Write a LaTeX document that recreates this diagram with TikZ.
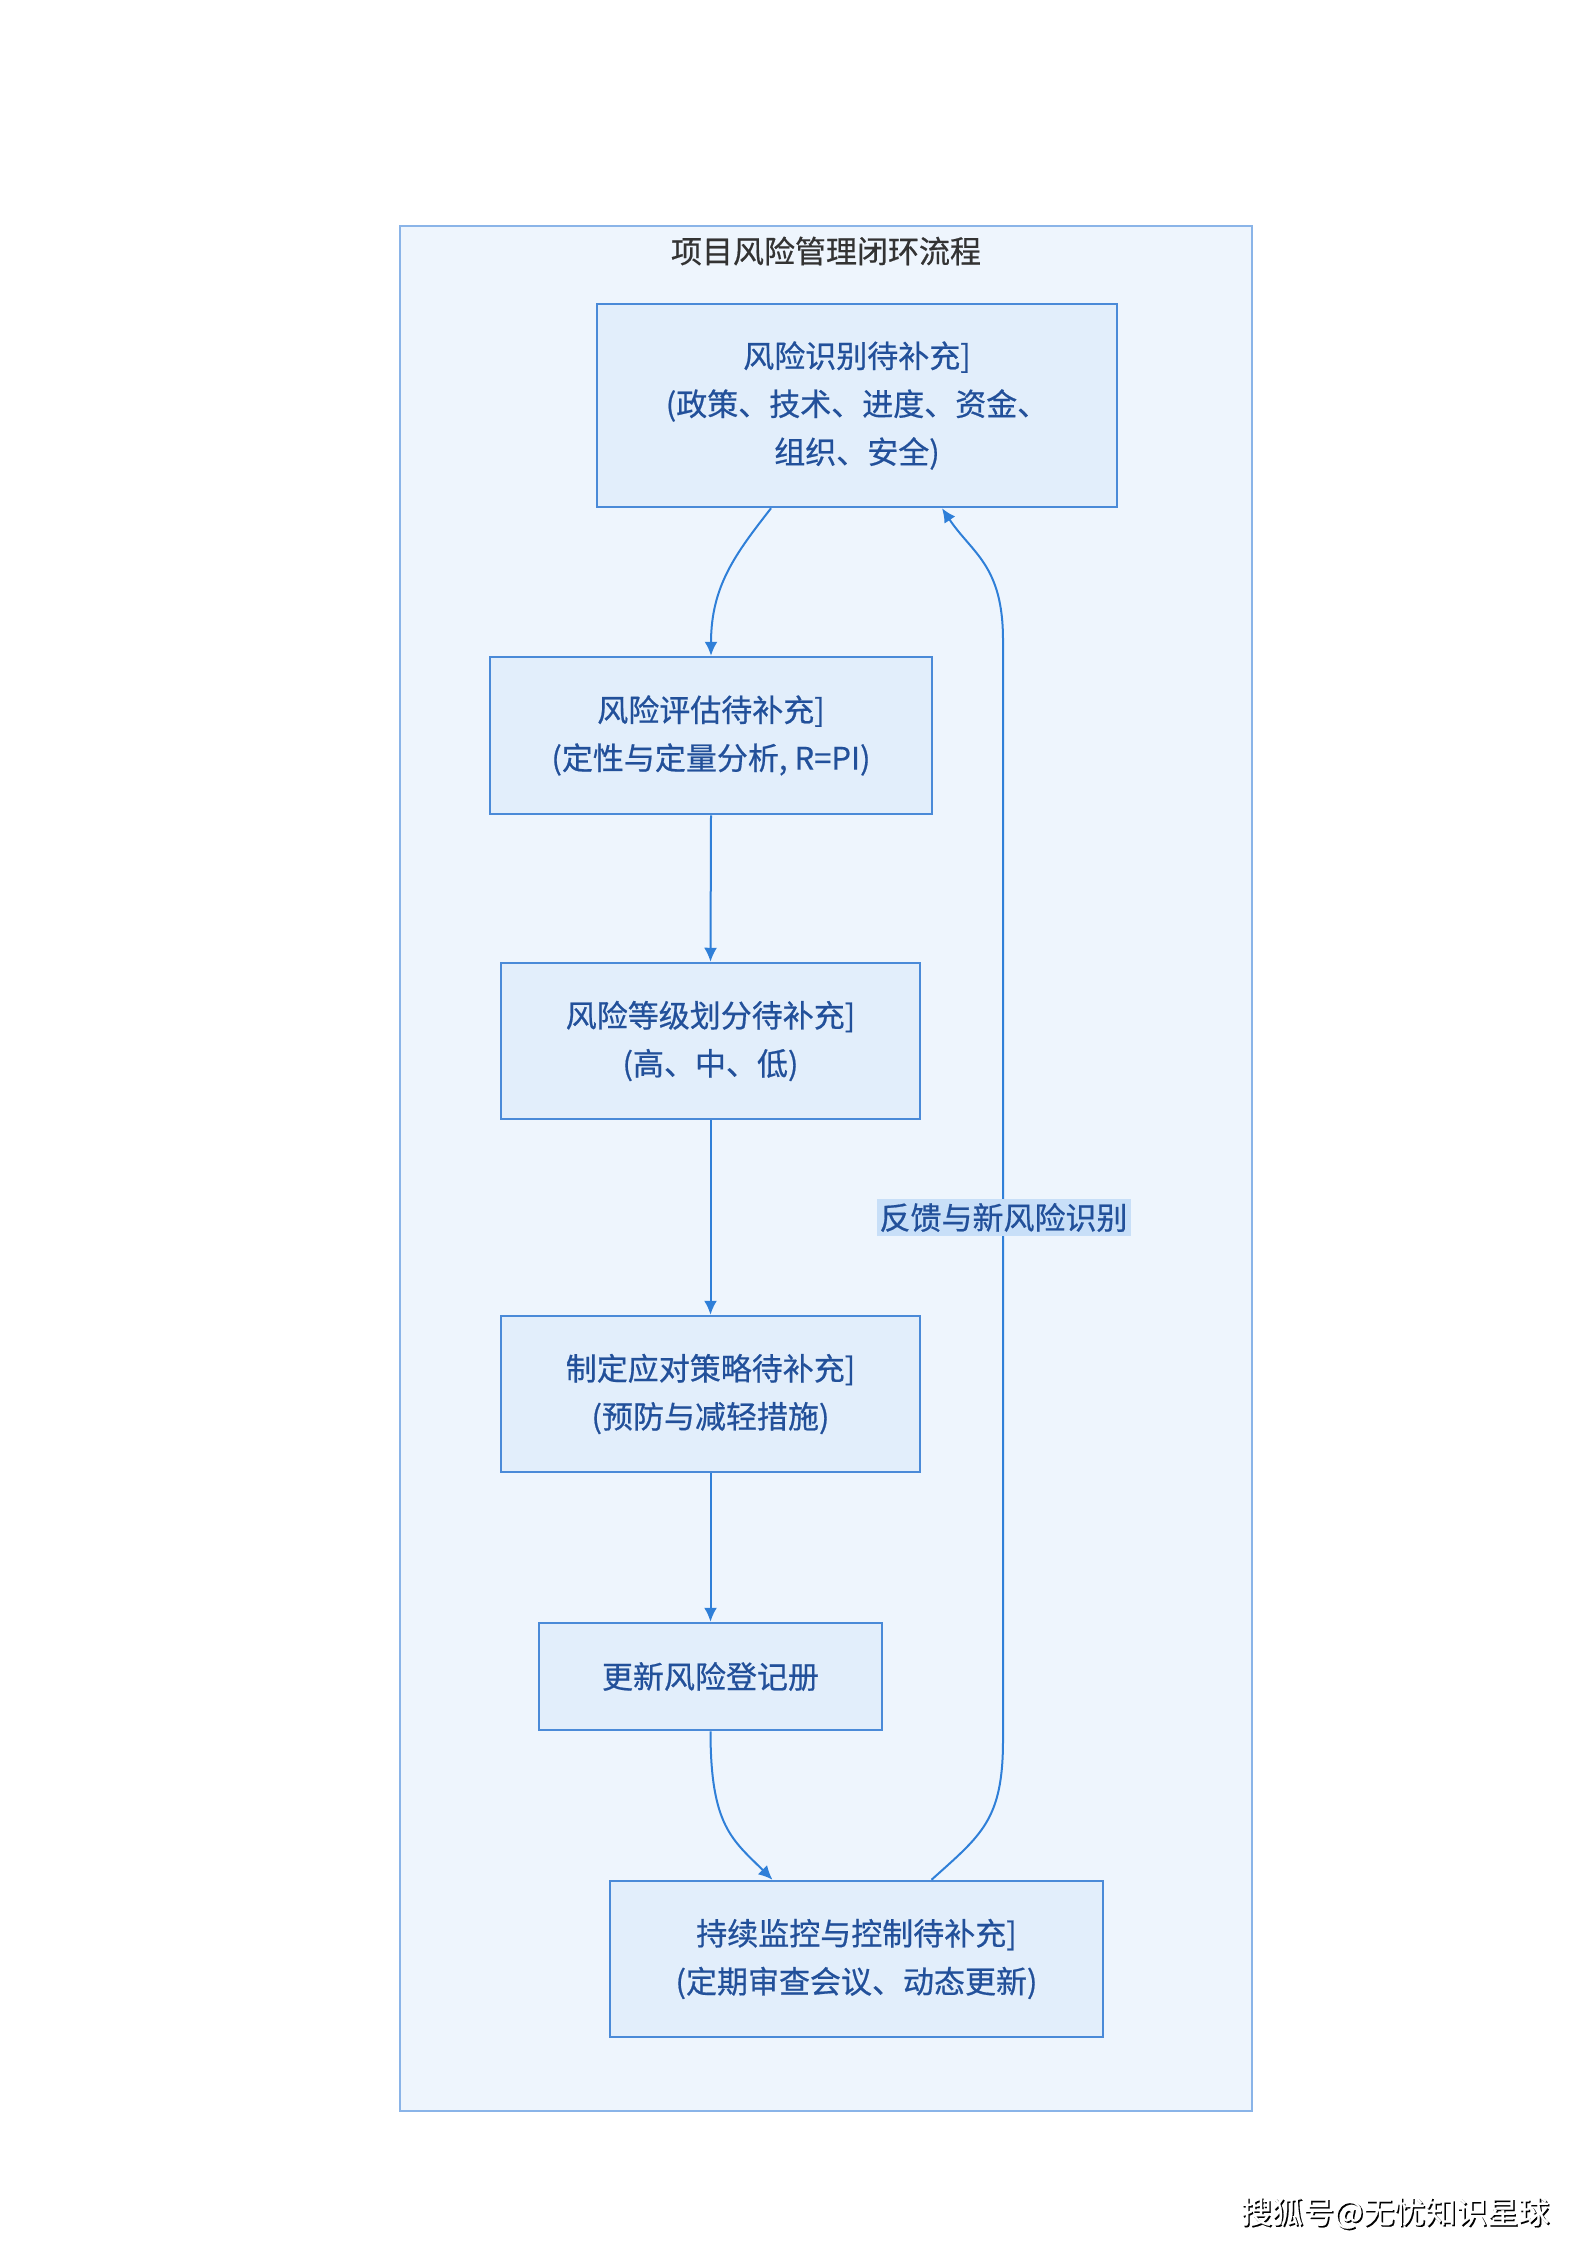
\documentclass[tikz,border=0pt]{standalone}
\usepackage{fontspec}
\setmainfont{Noto Sans CJK SC}[FakeBold=0.6,AutoFakeBold=0.6]
\usetikzlibrary{arrows.meta}
\definecolor{contfill}{HTML}{EEF5FD}
\definecolor{contline}{HTML}{8AB4E8}
\definecolor{boxfill}{HTML}{E2EEFB}
\definecolor{boxline}{HTML}{4A8AD8}
\definecolor{boxtext}{HTML}{22509A}
\definecolor{arrcol}{HTML}{2F7FD8}
\definecolor{lblfill}{HTML}{C8DFF8}
\definecolor{titlecol}{HTML}{333333}
\tikzset{
  cjk/.style={font=\fontsize{31}{48}\selectfont\bfseries},
  stepbox/.style={cjk, draw=boxline, line width=2.5pt, fill=boxfill, text=boxtext, align=center, inner sep=0pt},
  arr/.style={draw=arrcol, line width=2pt, -{Latex[length=14pt,width=13pt]}},
}
\begin{document}
\begin{tikzpicture}[x=1pt,y=-1pt]
\useasboundingbox[fill=white] (0,0) rectangle (1587,2245);
% container
\node[draw=contline, line width=2.5pt, fill=contfill, minimum width=852pt, minimum height=1885pt, inner sep=0pt] (cont) at (826,1168.5) {};
\node[cjk, text=titlecol] (title) at (826,251) {项目风险管理闭环流程};
% boxes
\node[stepbox, minimum width=520pt, minimum height=203pt] (A) at (857,405.5) {风险识别待补充]\\(政策、技术、进度、资金、\\组织、安全)};
\node[stepbox, minimum width=442pt, minimum height=157pt] (B) at (711,735.5) {风险评估待补充]\\(定性与定量分析, R=PI)};
\node[stepbox, minimum width=419pt, minimum height=156pt] (C) at (710.5,1041) {风险等级划分待补充]\\(高、中、低)};
\node[stepbox, minimum width=419pt, minimum height=156pt] (D) at (710.5,1394) {制定应对策略待补充]\\(预防与减轻措施)};
\node[stepbox, minimum width=343pt, minimum height=107pt] (E) at (710.5,1676.5) {更新风险登记册};
\node[stepbox, minimum width=493pt, minimum height=156pt] (F) at (856.5,1959) {持续监控与控制待补充]\\(定期审查会议、动态更新)};
% connectors
\draw[arr] ([xshift=-86pt]A.south) .. controls +(-35,45) and +(0,-70) .. (B.north);
\draw[arr] (B.south) -- (C.north);
\draw[arr] (C.south) -- (D.north);
\draw[arr] (D.south) -- (E.north);
\draw[arr] (E.south) .. controls +(0,95) and +(-40,-40) .. ([xshift=-84pt]F.north);
\coordinate (fb1) at (1003,1740);
\coordinate (fb2) at (1003,640);
\draw[arr] ([xshift=75pt]F.north) .. controls +(50,-45) and +(0,80) .. (fb1) -- (fb2) .. controls +(0,-75) and +(30,45) .. ([xshift=85pt]A.south);
\node[cjk, fill=lblfill, text=boxtext, inner xsep=3pt, inner ysep=4pt] (fb) at (1003.5,1217.5) {反馈与新风险识别};
% footer
\node[cjk, text=black] (ftshadow) at (1396.5,2214.5) {搜狐号@无忧知识星球};
\node[cjk, text=white] (ft) at (1395,2213) {搜狐号@无忧知识星球};
\end{tikzpicture}
\end{document}
